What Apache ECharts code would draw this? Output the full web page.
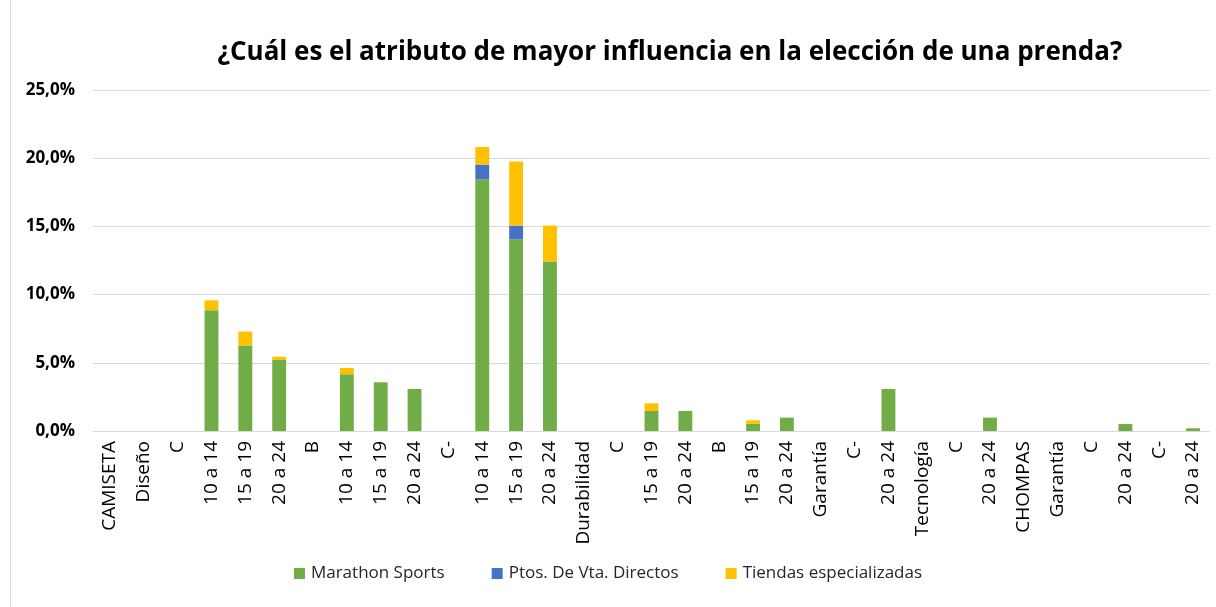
<!DOCTYPE html>
<html><head><meta charset="utf-8">
<script src="https://cdn.jsdelivr.net/npm/echarts@6/dist/echarts.min.js"></script>
<style>html,body{margin:0;padding:0;background:#fff}#c{width:1216px;height:607px}</style>
</head><body><div id="c"></div>
<script>
const categories = ["CAMISETA","Diseño","C","10 a 14","15 a 19","20 a 24","B","10 a 14","15 a 19","20 a 24","C-","10 a 14","15 a 19","20 a 24","Durabilidad","C","15 a 19","20 a 24","B","15 a 19","20 a 24","Garantía","C-","20 a 24","Tecnología","C","20 a 24","CHOMPAS","Garantía","C","20 a 24","C-","20 a 24"];
const marathon = [null,null,null,8.85,6.26,5.21,null,4.16,3.57,3.08,null,18.45,14.03,12.42,null,null,1.47,1.47,null,0.53,0.98,null,null,3.08,null,null,0.98,null,null,null,0.51,null,0.2];
const ptos = [null,null,null,null,null,null,null,null,null,null,null,1.08,1.03,null,null,null,null,null,null,null,null,null,null,null,null,null,null,null,null,null,null,null,null];
const tiendas = [null,null,null,0.73,1.03,0.24,null,0.46,null,null,null,1.29,4.69,2.64,null,null,0.56,null,null,0.25,null,null,null,null,null,null,null,null,null,null,null,null,null];
const yTicks = [0,5,10,15,20,25];
const chart = echarts.init(document.getElementById('c'));
const fam = 'Open Sans';
chart.setOption({
  animation:false,
  title:{text:'¿Cuál es el atributo de mayor influencia en la elección de una prenda?',left:665,top:35,textAlign:'center',
    textStyle:{fontFamily:fam,fontSize:26,fontWeight:'bold',color:'#000'}},
  graphic:[{type:'line',shape:{x1:10.5,y1:0,x2:10.5,y2:607},style:{stroke:'#d9d9d9',lineWidth:1}}],
  legend:{bottom:20,left:'center',itemWidth:11,itemHeight:11,itemGap:47,icon:'rect',
    textStyle:{fontFamily:fam,fontSize:17,color:'#262626',padding:[0,0,0,1]},
    data:['Marathon Sports','Ptos. De Vta. Directos','Tiendas especializadas']},
  grid:{left:93,right:6,top:90,bottom:176},
  xAxis:{type:'category',data:categories,
    axisLine:{lineStyle:{color:'#d9d9d9'}},axisTick:{show:false},
    axisLabel:{interval:0,rotate:90,fontFamily:fam,fontSize:19,color:'#000',margin:10}},
  yAxis:{type:'value',min:0,max:25,interval:5,
    splitLine:{lineStyle:{color:'#d9d9d9'}},axisLine:{show:false},axisTick:{show:false},
    axisLabel:{fontFamily:fam,fontSize:17,fontWeight:'bold',color:'#000',margin:18,
      formatter:v=>yTicks.includes(v)?v.toFixed(1).replace('.',',')+'%':''}},
  series:[
    {name:'Marathon Sports',type:'bar',stack:'s',data:marathon,barWidth:'41%',itemStyle:{color:'#70ad47'}},
    {name:'Ptos. De Vta. Directos',type:'bar',stack:'s',data:ptos,itemStyle:{color:'#4472c4'}},
    {name:'Tiendas especializadas',type:'bar',stack:'s',data:tiendas,itemStyle:{color:'#ffc000'}}
  ]
});
</script></body></html>
